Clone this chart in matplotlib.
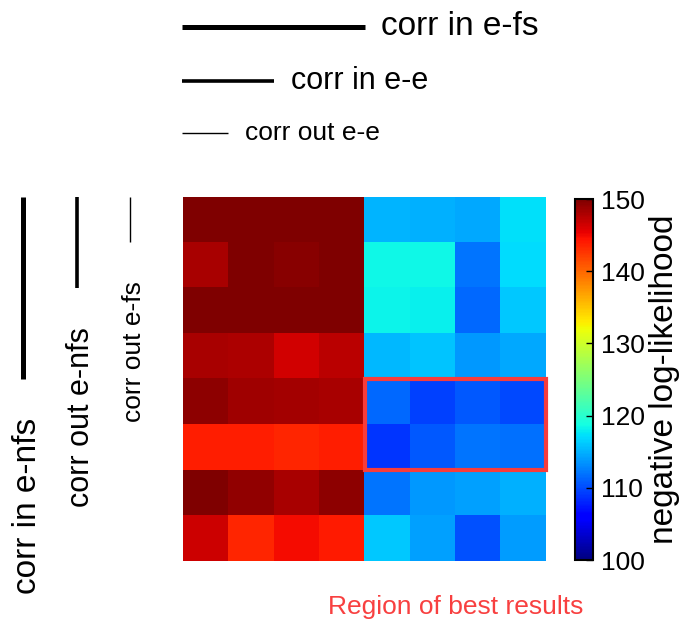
import numpy as np
import matplotlib.pyplot as plt
from matplotlib.patches import Rectangle

plt.rcParams['font.family'] = ['Liberation Sans', 'DejaVu Sans']

# negative log-likelihood, 8 x 8 grid (rows top to bottom)
nll = np.array([
    [150.0, 150.0, 150.0, 150.0, 115.1, 115.0, 114.5, 117.2],
    [148.2, 150.0, 149.6, 150.0, 118.5, 118.4, 112.1, 117.0],
    [150.0, 150.0, 150.0, 150.0, 118.2, 118.0, 111.4, 116.2],
    [148.2, 147.9, 146.4, 147.3, 115.4, 115.9, 113.7, 114.5],
    [149.4, 148.6, 148.3, 148.2, 111.4, 109.4, 110.6, 109.8],
    [143.9, 143.9, 143.4, 143.8, 108.8, 110.6, 112.1, 111.8],
    [150.0, 149.2, 148.2, 149.4, 112.1, 113.7, 114.1, 115.0],
    [146.5, 143.4, 144.9, 144.0, 116.2, 114.1, 110.3, 113.9],
])
vmin, vmax = 100, 150
cbar_ticks = [100, 110, 120, 130, 140, 150]

# column factors (top) and row factors (left): label, span in cells, font size
col_labels = ['corr in e-fs', 'corr in e-e', 'corr out e-e']
row_labels = ['corr in e-nfs', 'corr out e-nfs', 'corr out e-fs']
spans = [4, 2, 1]
sizes = [24, 22, 19]
widths = [3.6, 2.6, 1.0]

# best region: first col, first row, n cols, n rows
best = (4, 4, 4, 2)

fig = plt.figure(figsize=(6.86, 6.19), dpi=100)
ax = fig.add_axes([183/686, 1-561/619, 363/686, 364/619])
im = ax.imshow(nll, cmap='jet', vmin=vmin, vmax=vmax, aspect='auto',
               interpolation='nearest')
ax.set_axis_off()

# factor indicator bars above and left of the grid
top_y = [-4.24, -3.05, -1.91]
left_x = [-4.02, -2.83, -1.66]
for lab, sp, fs, lw, yy in zip(col_labels, spans, sizes, widths, top_y):
    ax.plot([-0.52, -0.5 + sp], [yy, yy], color='k', lw=lw, clip_on=False,
            solid_capstyle='butt')
    ax.text(-0.5 + sp + 0.37, yy, lab, fontsize=fs, ha='left', va='center')
for lab, sp, fs, lw, xx in zip(row_labels, spans, sizes, widths, left_x):
    ax.plot([xx, xx], [-0.5, -0.5 + sp], color='k', lw=lw, clip_on=False,
            solid_capstyle='butt')
    ax.text(xx + 0.09, -0.5 + sp + 0.85, lab, fontsize=fs, rotation=90,
            ha='center', va='top')

c0, r0, nc, nr = best
ax.add_patch(Rectangle((c0 - 0.5, r0 - 0.5), nc, nr, fill=False,
                       edgecolor='#f83c3c', lw=3, clip_on=False))
ax.text(c0 - 0.5 + nc / 2, 8.52, 'Region of best results', color='#f84040',
        fontsize=19, ha='center', va='center')

ax.set_xlim(-0.5, 7.5)
ax.set_ylim(7.5, -0.5)

cax = fig.add_axes([575/686, 1-560/619, 18/686, 361/619])
cb = fig.colorbar(im, cax=cax, ticks=cbar_ticks)
cb.outline.set_linewidth(1.5)
cax.tick_params(direction='in', length=5, width=1, labelsize=19, pad=6)
cb.set_label('negative log-likelihood', fontsize=24, labelpad=3)

fig.savefig('out.png', dpi=100)
